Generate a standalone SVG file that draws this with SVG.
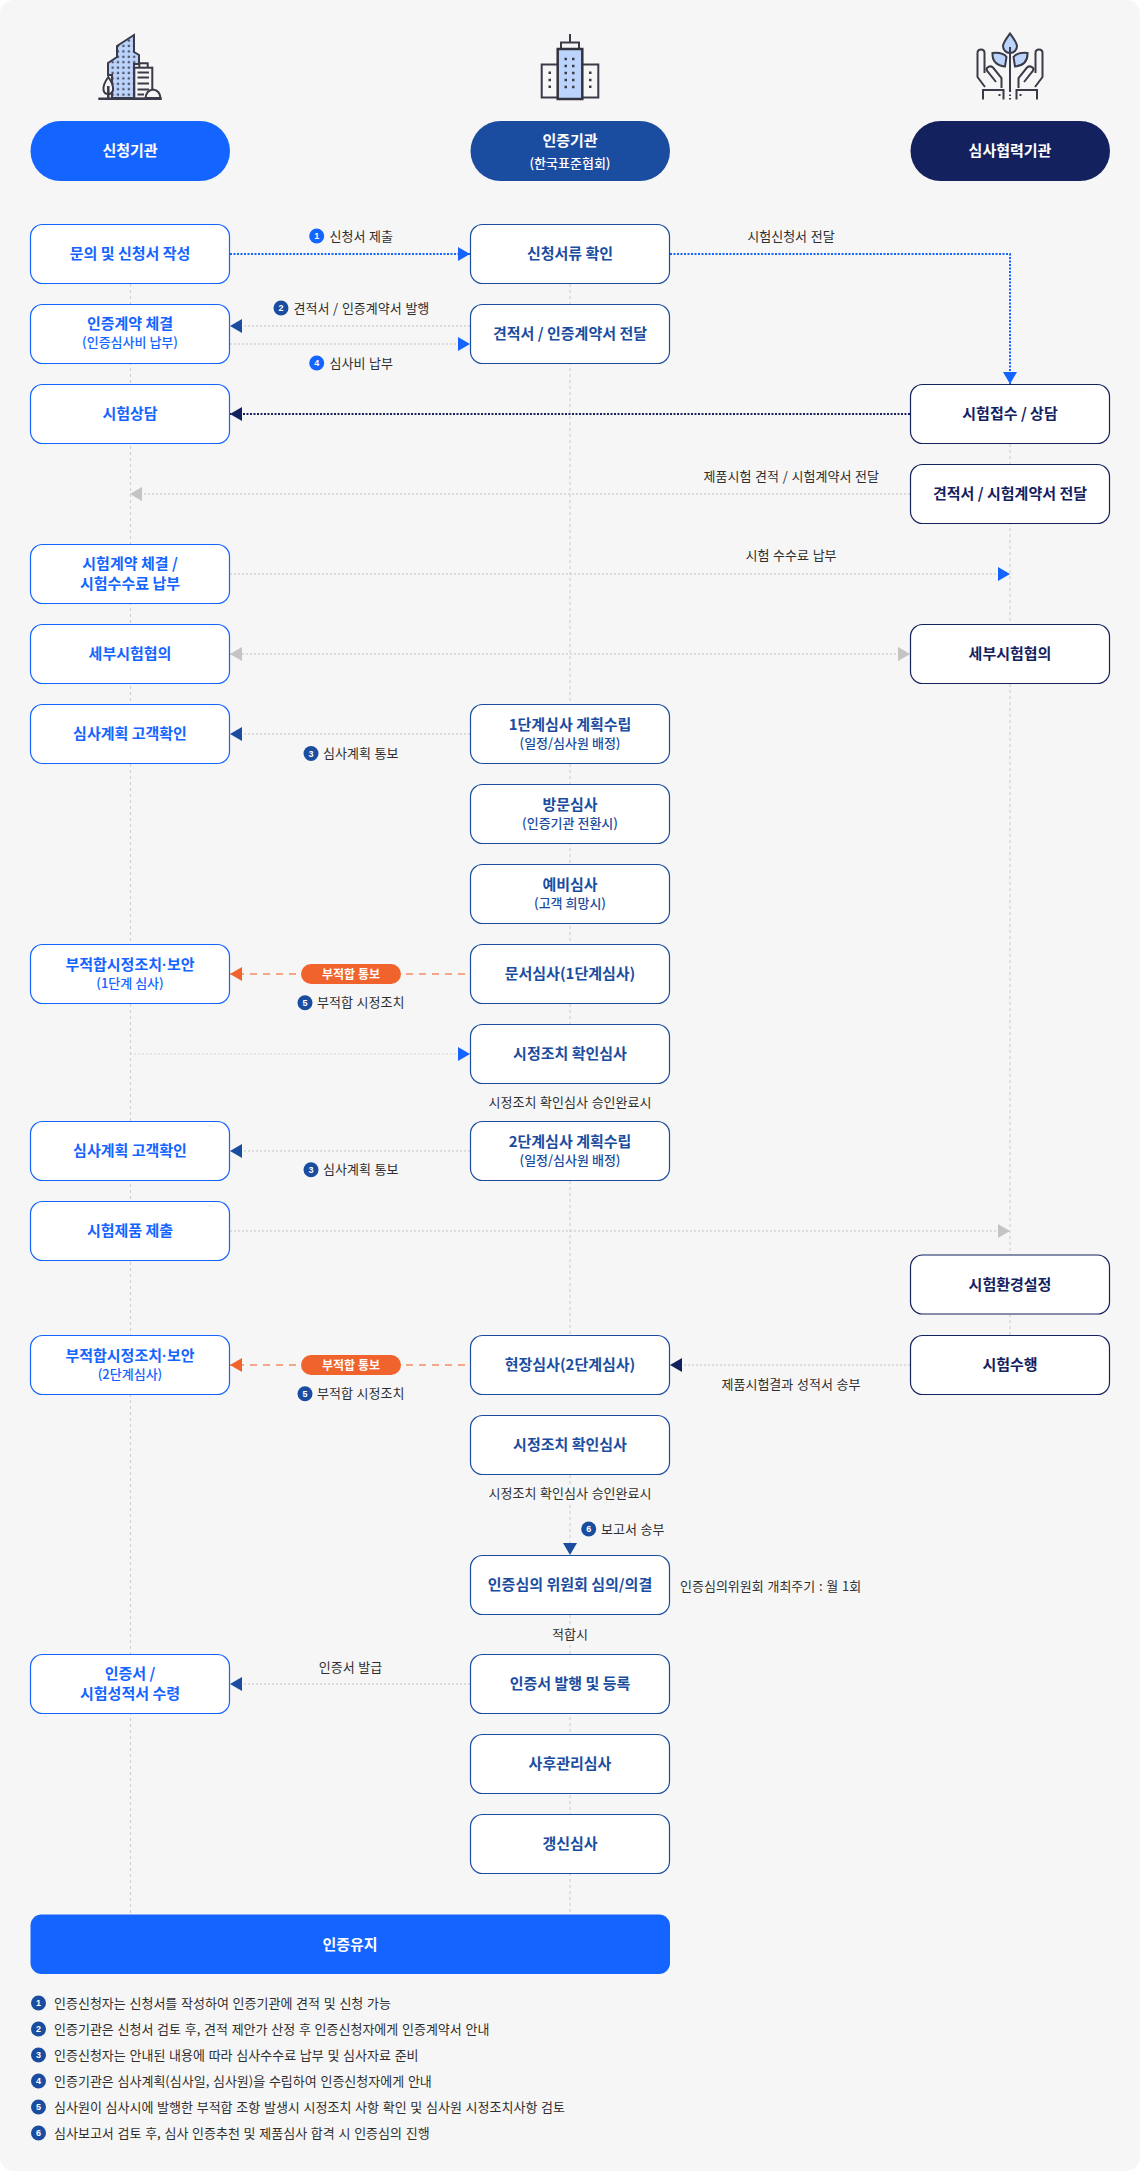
<svg xmlns="http://www.w3.org/2000/svg" width="1140" height="2171" viewBox="0 0 1140 2171">
<defs>
<style>
text{font-family:"Noto Sans CJK KR","Noto Sans",sans-serif;text-anchor:middle}
.box{fill:#fff;stroke-width:1.2}
.L .box{stroke:#1464ff}.L text{fill:#1464ff}
.M .box{stroke:#1a4da0}.M text{fill:#1a4da0}
.R .box{stroke:#14215f}.R text{fill:#14215f}
.t{font-size:15px;font-weight:700}
.s{font-size:13px;font-weight:500}
.dot{font-family:"Liberation Sans",sans-serif}
.p{fill:#fff;font-size:15px;font-weight:700}
.lb{font-size:13px;fill:#2e2e2e;font-weight:400;word-spacing:.8px}
.st{text-anchor:start}
.en{text-anchor:end}
.n{font-size:9px;font-weight:700;fill:#fff;font-family:"Liberation Sans",sans-serif}
.life{fill:none;stroke:#d2d2d2;stroke-width:1.2;stroke-dasharray:3 3}
.g{fill:none;stroke:#d4d4d4;stroke-width:1.6;stroke-dasharray:2 2}
.bl{fill:none;stroke:#1464ff;stroke-width:2;stroke-dasharray:2 1.5}
.dk{fill:none;stroke:#14215f;stroke-width:2;stroke-dasharray:2 1.5}
.or{fill:none;stroke:#f5a689;stroke-width:2;stroke-dasharray:7 6}
.ic{fill:none;stroke:#3a3a48;stroke-width:2}
</style>
<marker id="aBlue" markerUnits="userSpaceOnUse" markerWidth="12" markerHeight="14" refX="12" refY="7" orient="auto-start-reverse"><path d="M0 0L12 7L0 14Z" fill="#1464ff"/></marker>
<marker id="aMid" markerUnits="userSpaceOnUse" markerWidth="12" markerHeight="14" refX="12" refY="7" orient="auto-start-reverse"><path d="M0 0L12 7L0 14Z" fill="#1a4da0"/></marker>
<marker id="aDark" markerUnits="userSpaceOnUse" markerWidth="12" markerHeight="14" refX="12" refY="7" orient="auto-start-reverse"><path d="M0 0L12 7L0 14Z" fill="#14215f"/></marker>
<marker id="aGrey" markerUnits="userSpaceOnUse" markerWidth="12" markerHeight="14" refX="12" refY="7" orient="auto-start-reverse"><path d="M0 0L12 7L0 14Z" fill="#c4c4c4"/></marker>
<marker id="aOr" markerUnits="userSpaceOnUse" markerWidth="12" markerHeight="14" refX="12" refY="7" orient="auto-start-reverse"><path d="M0 0L12 7L0 14Z" fill="#f0632c"/></marker>
<pattern id="dots" width="5.4" height="5.4" patternUnits="userSpaceOnUse" x="110" y="38"><rect width="5.4" height="5.4" fill="#bcd3fb"/><rect x="1.5" y="1.5" width="2.2" height="2.2" fill="#4a5068"/></pattern>
</defs>
<rect width="1140" height="2171" fill="#fff"/>
<rect width="1140" height="2171" rx="14" fill="#f6f6f6"/>

<g id="icon-applicant">
<path d="M108 63L117 57V46L134 35V52L139 55V64H134V98H112V75H108Z" class="ic" style="fill:url(#dots)"/>
<path d="M139.300 67.700V63.300H147.700V67.700" class="ic"/>
<rect x="134.300" y="67.700" width="18" height="31" fill="#f6f6f6" stroke="#3a3a48" stroke-width="2"/>
<path d="M137.500 72.500H149M137.500 77.500H149M137.500 83.500H149M137.500 89.500H149M137.500 94.500H144" stroke="#3a3a48" stroke-width="2"/>
<path d="M145.500 98C146 93 149 90 153 89.500C157 90 160 93 160.500 98Z" fill="#f6f6f6" stroke="#3a3a48" stroke-width="2"/>
<path d="M108.300 77C104 83 103 87 103.500 90C104 93 106 94 108.300 94C110.600 94 112.600 93 113 90C113.500 87 112.500 83 108.300 77Z" fill="#f6f6f6" stroke="#3a3a48" stroke-width="2"/>
<path d="M108.300 86V98M98.300 98.700H161.700" stroke="#3a3a48" stroke-width="2.500" fill="none"/>
</g>
<g id="icon-cert">
<path d="M570 34V42M561 49V42.500H579V49" class="ic"/>
<rect x="541.700" y="64.500" width="56.600" height="33" fill="#f6f6f6" stroke="#3a3a48" stroke-width="2"/>
<rect x="557.700" y="49" width="24.600" height="50" fill="#bcd3fb" stroke="#33333f" stroke-width="2.500"/>
<path d="M564.500 59h2.500M572 59h2.500M564.500 66h2.500M572 66h2.500M564.500 73h2.500M572 73h2.500M564.500 80h2.500M572 80h2.500M564.500 87h2.500M572 87h2.500M548.500 72.700h2.500M548.500 80h2.500M548.500 86.700h2.500M589 72.700h2.500M589 80h2.500M589 86.700h2.500" stroke="#3a3a48" stroke-width="2.500"/>
</g>
<g id="icon-partner">
<path d="M1010 33.500C1006 39 1003 43 1003 46C1003 50 1006 53 1010 53C1014 53 1017 50 1017 46C1017 43 1014 39 1010 33.500Z" class="ic" style="fill:#bcd3fb"/>
<path d="M1010 47V92M1010 94.500V96M1010 98V99.500" class="ic"/>
<path d="M992.500 53Q1003 52 1006.500 57L1005 66.500Q992 65 992.500 53Z" class="ic" style="fill:#bcd3fb"/>
<path d="M985 87L977.500 77V53Q977.500 49.500 981 49.500Q984.500 49.500 984.500 53V73M1001.500 88V78L993 67.500Q990 65 987 68Q986 70 988 72L996 82M983 99.500V90H1003.500V99.500M998.500 95h2" class="ic"/>
<g transform="translate(2020 0) scale(-1 1)">
<path d="M992.500 53Q1003 52 1006.500 57L1005 66.500Q992 65 992.500 53Z" class="ic" style="fill:#bcd3fb"/>
<path d="M985 87L977.500 77V53Q977.500 49.500 981 49.500Q984.500 49.500 984.500 53V73M1001.500 88V78L993 67.500Q990 65 987 68Q986 70 988 72L996 82M983 99.500V90H1003.500V99.500M998.500 95h2" class="ic"/>
</g>
</g>

<g id="connectors">
<path class="life" d="M130.500 284V1914M570 284V1024M570 1181V1335M570 1475V1484M570 1505V1545M570 1615V1625M570 1645V1914M1010 444V1335"/>
<path class="bl" d="M230 254H470" marker-end="url(#aBlue)"/>
<path class="bl" d="M670 254H1010V384" marker-end="url(#aBlue)"/>
<path class="g" d="M470 326H230" marker-end="url(#aMid)"/>
<path class="g" d="M230 344H470" marker-end="url(#aBlue)"/>
<path class="dk" d="M910 414H230" marker-end="url(#aDark)"/>
<path class="g" d="M910 494H130" marker-end="url(#aGrey)"/>
<path class="g" d="M230 574H1010" marker-end="url(#aBlue)"/>
<path class="g" d="M230 654H910" marker-start="url(#aGrey)" marker-end="url(#aGrey)"/>
<path class="g" d="M470 734H230" marker-end="url(#aMid)"/>
<path class="or" d="M465 974H230" marker-end="url(#aOr)"/>
<path class="g" style="stroke-width:1" d="M130 1054H470" marker-end="url(#aBlue)"/>
<path class="g" d="M470 1151H230" marker-end="url(#aMid)"/>
<path class="g" d="M230 1231H1010" marker-end="url(#aGrey)"/>
<path class="or" d="M465 1365H230" marker-end="url(#aOr)"/>
<path class="g" d="M910 1365H670" marker-end="url(#aDark)"/>
<path class="g" d="M470 1684H230" marker-end="url(#aMid)"/>
<path d="M563 1543H577L570 1555Z" fill="#1a4da0"/>
</g>

<g id="h1"><rect x="30.500" y="121" width="199.500" height="60" rx="30" fill="#1464ff"/><text class="p" x="130" y="156">신청기관</text></g>
<g id="h2"><rect x="470.500" y="121" width="199.500" height="60" rx="30" fill="#1a4da0"/><text class="p" x="570" y="146">인증기관</text><text x="570" y="168" fill="#fff" font-size="13" font-weight="500">(한국표준협회)</text></g>
<g id="h3"><rect x="910.500" y="121" width="199.500" height="60" rx="30" fill="#14215f"/><text class="p" x="1010" y="156">심사협력기관</text></g>

<g id="L1" class="L"><rect class="box" x="30.500" y="224.500" width="199" height="59" rx="12"/><text class="t" x="130" y="259">문의 및 신청서 작성</text></g>
<g id="L2" class="L"><rect class="box" x="30.500" y="304.500" width="199" height="59" rx="12"/><text class="t" x="130" y="329">인증계약 체결</text><text class="s" x="130" y="347">(인증심사비 납부)</text></g>
<g id="L3" class="L"><rect class="box" x="30.500" y="384.500" width="199" height="59" rx="12"/><text class="t" x="130" y="419">시험상담</text></g>
<g id="L4" class="L"><rect class="box" x="30.500" y="544.500" width="199" height="59" rx="12"/><text class="t" x="130" y="569">시험계약 체결 /</text><text class="t" x="130" y="589">시험수수료 납부</text></g>
<g id="L5" class="L"><rect class="box" x="30.500" y="624.500" width="199" height="59" rx="12"/><text class="t" x="130" y="659">세부시험협의</text></g>
<g id="L6" class="L"><rect class="box" x="30.500" y="704.500" width="199" height="59" rx="12"/><text class="t" x="130" y="739">심사계획 고객확인</text></g>
<g id="L7" class="L"><rect class="box" x="30.500" y="944.500" width="199" height="59" rx="12"/><text class="t" x="130" y="970">부적합시정조치<tspan class="dot">·</tspan>보안</text><text class="s" x="130" y="988">(1단계 심사)</text></g>
<g id="L8" class="L"><rect class="box" x="30.500" y="1121.500" width="199" height="59" rx="12"/><text class="t" x="130" y="1156">심사계획 고객확인</text></g>
<g id="L9" class="L"><rect class="box" x="30.500" y="1201.500" width="199" height="59" rx="12"/><text class="t" x="130" y="1236">시험제품 제출</text></g>
<g id="L10" class="L"><rect class="box" x="30.500" y="1335.500" width="199" height="59" rx="12"/><text class="t" x="130" y="1361">부적합시정조치<tspan class="dot">·</tspan>보안</text><text class="s" x="130" y="1379">(2단계심사)</text></g>
<g id="L11" class="L"><rect class="box" x="30.500" y="1654.500" width="199" height="59" rx="12"/><text class="t" x="130" y="1679">인증서 /</text><text class="t" x="130" y="1699">시험성적서 수령</text></g>

<g id="M1" class="M"><rect class="box" x="470.500" y="224.500" width="199" height="59" rx="12"/><text class="t" x="570" y="259">신청서류 확인</text></g>
<g id="M2" class="M"><rect class="box" x="470.500" y="304.500" width="199" height="59" rx="12"/><text class="t" x="570" y="339">견적서 / 인증계약서 전달</text></g>
<g id="M3" class="M"><rect class="box" x="470.500" y="704.500" width="199" height="59" rx="12"/><text class="t" x="570" y="730">1단계심사 계획수립</text><text class="s" x="570" y="748">(일정/심사원 배정)</text></g>
<g id="M4" class="M"><rect class="box" x="470.500" y="784.500" width="199" height="59" rx="12"/><text class="t" x="570" y="810">방문심사</text><text class="s" x="570" y="828">(인증기관 전환시)</text></g>
<g id="M5" class="M"><rect class="box" x="470.500" y="864.500" width="199" height="59" rx="12"/><text class="t" x="570" y="890">예비심사</text><text class="s" x="570" y="908">(고객 희망시)</text></g>
<g id="M6" class="M"><rect class="box" x="470.500" y="944.500" width="199" height="59" rx="12"/><text class="t" x="570" y="979">문서심사(1단계심사)</text></g>
<g id="M7" class="M"><rect class="box" x="470.500" y="1024.500" width="199" height="59" rx="12"/><text class="t" x="570" y="1059">시정조치 확인심사</text></g>
<g id="M8" class="M"><rect class="box" x="470.500" y="1121.500" width="199" height="59" rx="12"/><text class="t" x="570" y="1147">2단계심사 계획수립</text><text class="s" x="570" y="1165">(일정/심사원 배정)</text></g>
<g id="M9" class="M"><rect class="box" x="470.500" y="1335.500" width="199" height="59" rx="12"/><text class="t" x="570" y="1370">현장심사(2단계심사)</text></g>
<g id="M10" class="M"><rect class="box" x="470.500" y="1415.500" width="199" height="59" rx="12"/><text class="t" x="570" y="1450">시정조치 확인심사</text></g>
<g id="M11" class="M"><rect class="box" x="470.500" y="1555.500" width="199" height="59" rx="12"/><text class="t" x="570" y="1590">인증심의 위원회 심의/의결</text></g>
<g id="M12" class="M"><rect class="box" x="470.500" y="1654.500" width="199" height="59" rx="12"/><text class="t" x="570" y="1689">인증서 발행 및 등록</text></g>
<g id="M13" class="M"><rect class="box" x="470.500" y="1734.500" width="199" height="59" rx="12"/><text class="t" x="570" y="1769">사후관리심사</text></g>
<g id="M14" class="M"><rect class="box" x="470.500" y="1814.500" width="199" height="59" rx="12"/><text class="t" x="570" y="1849">갱신심사</text></g>

<g id="R1" class="R"><rect class="box" x="910.500" y="384.500" width="199" height="59" rx="12"/><text class="t" x="1010" y="419">시험접수 / 상담</text></g>
<g id="R2" class="R"><rect class="box" x="910.500" y="464.500" width="199" height="59" rx="12"/><text class="t" x="1010" y="499">견적서 / 시험계약서 전달</text></g>
<g id="R3" class="R"><rect class="box" x="910.500" y="624.500" width="199" height="59" rx="12"/><text class="t" x="1010" y="659">세부시험협의</text></g>
<g id="R4" class="R"><rect class="box" x="910.500" y="1255" width="199" height="59" rx="12"/><text class="t" x="1010" y="1290">시험환경설정</text></g>
<g id="R5" class="R"><rect class="box" x="910.500" y="1335.500" width="199" height="59" rx="12"/><text class="t" x="1010" y="1370">시험수행</text></g>

<g id="maintain"><rect x="30.500" y="1914.500" width="639.500" height="59.500" rx="11" fill="#1464ff"/><text class="p" x="350" y="1950">인증유지</text></g>

<g id="pill1"><rect x="301" y="964" width="100" height="20" rx="10" fill="#f0632c"/><text x="351" y="979" fill="#fff" font-size="12" font-weight="700">부적합 통보</text></g>
<g id="pill2"><rect x="301" y="1355" width="100" height="20" rx="10" fill="#f0632c"/><text x="351" y="1370" fill="#fff" font-size="12" font-weight="700">부적합 통보</text></g>

<g id="labels">
<circle cx="316.700" cy="236" r="7.500" fill="#1464ff"/><text class="n" x="316.700" y="239.300">1</text><text class="lb st" x="329.500" y="240.500">신청서 제출</text>
<circle cx="281" cy="308" r="7.500" fill="#1a4da0"/><text class="n" x="281" y="311.300">2</text><text class="lb st" x="293.500" y="312.500">견적서 / 인증계약서 발행</text>
<circle cx="316.700" cy="363" r="7.500" fill="#1464ff"/><text class="n" x="316.700" y="366.300">4</text><text class="lb st" x="329.500" y="367.500">심사비 납부</text>
<text class="lb" x="791" y="240.500">시험신청서 전달</text>
<text class="lb en" x="879" y="480.500">제품시험 견적 / 시험계약서 전달</text>
<text class="lb" x="791" y="560">시험 수수료 납부</text>
<circle cx="311" cy="753.500" r="7.500" fill="#1a4da0"/><text class="n" x="311" y="756.800">3</text><text class="lb st" x="323" y="758">심사계획 통보</text>
<circle cx="305" cy="1002.700" r="7.500" fill="#1a4da0"/><text class="n" x="305" y="1006">5</text><text class="lb st" x="317" y="1007.200">부적합 시정조치</text>
<text class="lb" x="570" y="1107.200">시정조치 확인심사 승인완료시</text>
<circle cx="311" cy="1169.700" r="7.500" fill="#1a4da0"/><text class="n" x="311" y="1173">3</text><text class="lb st" x="323" y="1174.200">심사계획 통보</text>
<text class="lb" x="791" y="1388.500">제품시험결과 성적서 송부</text>
<circle cx="305" cy="1393.700" r="7.500" fill="#1a4da0"/><text class="n" x="305" y="1397">5</text><text class="lb st" x="317" y="1398.200">부적합 시정조치</text>
<text class="lb" x="570" y="1498.200">시정조치 확인심사 승인완료시</text>
<circle cx="588.700" cy="1529" r="7.500" fill="#1a4da0"/><text class="n" x="588.700" y="1532.300">6</text><text class="lb st" x="601" y="1533.500">보고서 송부</text>
<text class="lb st" x="680" y="1590.500">인증심의위원회 개최주기 : 월 1회</text>
<text class="lb" x="570" y="1639.200">적합시</text>
<text class="lb" x="350.500" y="1672">인증서 발급</text>
</g>

<g id="notes">
<circle cx="38.500" cy="2003" r="7.500" fill="#1a4da0"/><text class="n" x="38.500" y="2006.300">1</text><text class="lb st" x="54" y="2007.500">인증신청자는 신청서를 작성하여 인증기관에 견적 및 신청 가능</text>
<circle cx="38.500" cy="2029" r="7.500" fill="#1a4da0"/><text class="n" x="38.500" y="2032.300">2</text><text class="lb st" x="54" y="2033.500">인증기관은 신청서 검토 후, 견적 제안가 산정 후 인증신청자에게 인증계약서 안내</text>
<circle cx="38.500" cy="2055" r="7.500" fill="#1a4da0"/><text class="n" x="38.500" y="2058.300">3</text><text class="lb st" x="54" y="2059.500">인증신청자는 안내된 내용에 따라 심사수수료 납부 및 심사자료 준비</text>
<circle cx="38.500" cy="2081" r="7.500" fill="#1a4da0"/><text class="n" x="38.500" y="2084.300">4</text><text class="lb st" x="54" y="2085.500">인증기관은 심사계획(심사일, 심사원)을 수립하여 인증신청자에게 안내</text>
<circle cx="38.500" cy="2107" r="7.500" fill="#1a4da0"/><text class="n" x="38.500" y="2110.300">5</text><text class="lb st" x="54" y="2111.500">심사원이 심사시에 발행한 부적합 조항 발생시 시정조치 사항 확인 및 심사원 시정조치사항 검토</text>
<circle cx="38.500" cy="2133" r="7.500" fill="#1a4da0"/><text class="n" x="38.500" y="2136.300">6</text><text class="lb st" x="54" y="2137.500">심사보고서 검토 후, 심사 인증추천 및 제품심사 합격 시 인증심의 진행</text>
</g>
</svg>
